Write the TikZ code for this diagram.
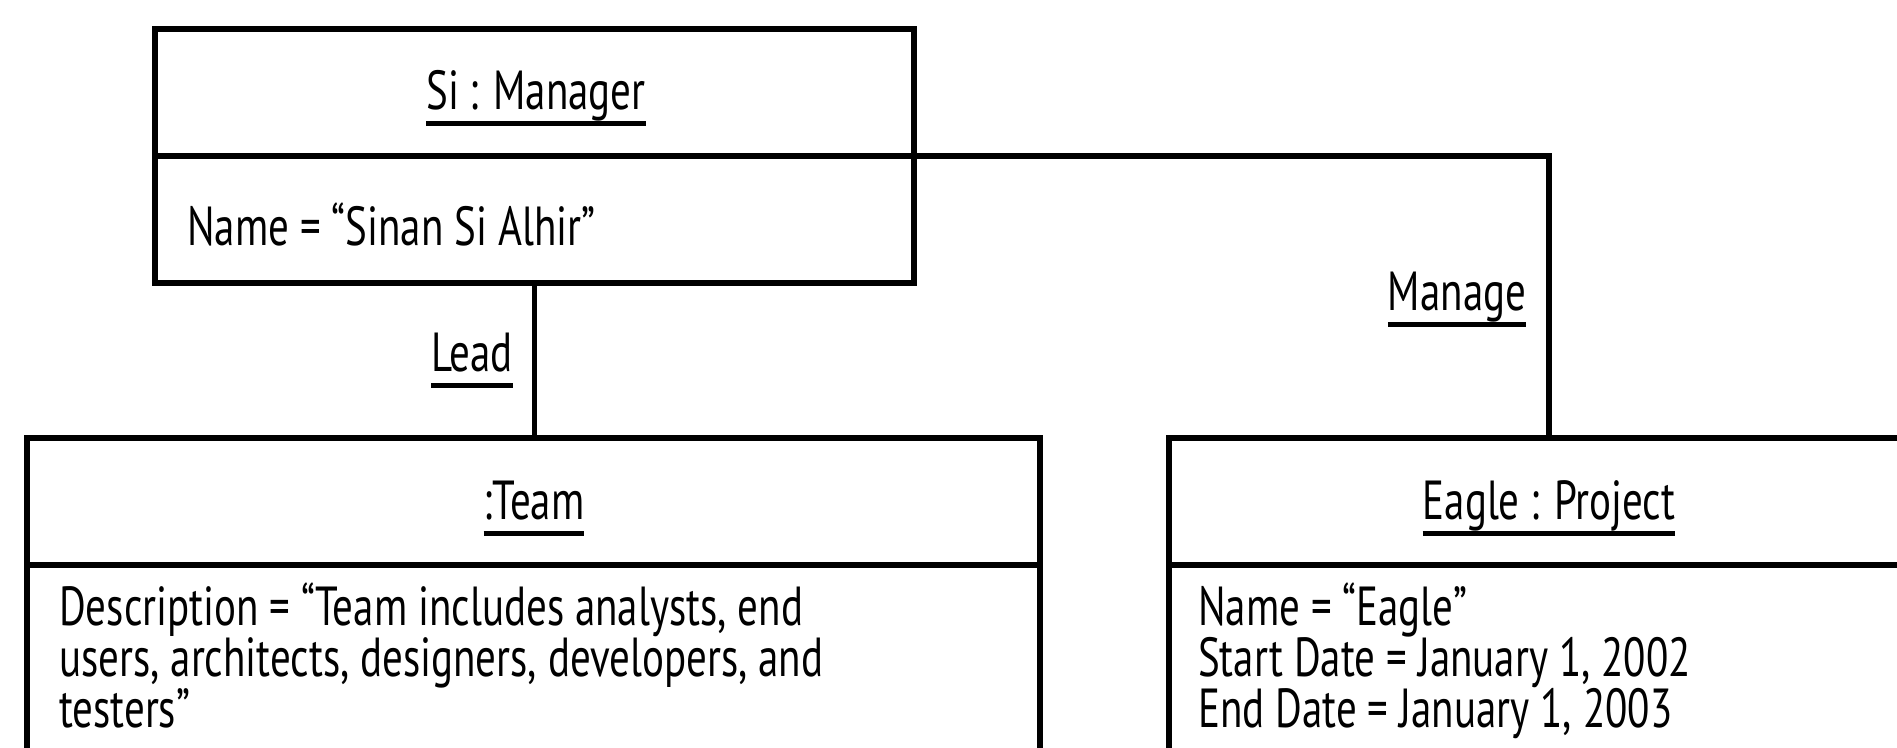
\documentclass[tikz,border=0pt]{standalone}
\usepackage{fontspec}
\setmainfont{PT Sans}[FakeStretch=0.745]
% object and link names are underlined with a heavy rule
\newcommand\objul[1]{\setbox0=\hbox{#1}\rlap{\rule[-0.31em]{\wd0}{0.09em}}\box0}
\begin{document}
\begin{tikzpicture}[x=1pt,y=-1pt,
  comp/.style={draw, rectangle, line width=5.5pt, inner sep=0pt, outer sep=0pt, anchor=north west},
  txt/.style={inner sep=0pt, font=\fontsize{55}{51}\selectfont},
  link/.style={line width=5.5pt}]
\useasboundingbox (0,0) rectangle (1897,747);
\clip (0,0) rectangle (1897,747);

% Si : Manager
\node[comp, minimum width=759pt, minimum height=127pt] (mgrhead) at (155,29) {};
\node[comp, minimum width=759pt, minimum height=127pt] (mgrbody) at (155,156) {};
\node[txt, anchor=base] (mgrname) at (536,109) {\objul{Si : Manager}};
\node[txt, anchor=base west] (mgrattr) at (187,245) {Name = “Sinan Si Alhir”};

% :Team
\node[comp, minimum width=1013pt, minimum height=127pt] (teamhead) at (27,438) {};
\node[comp, minimum width=1013pt, minimum height=250pt] (teambody) at (27,565) {};
\node[txt, anchor=base] (teamname) at (534,519) {\objul{:Team}};
% base anchor of a multi-line node sits on its last line
\node[txt, anchor=base west, align=left] (teamattr) at (59,727)
  {Description = “Team includes analysts, end\\users, architects, designers, developers, and\\testers”};

% Eagle : Project
\node[comp, minimum width=760pt, minimum height=127pt] (projhead) at (1169,438) {};
\node[comp, minimum width=760pt, minimum height=250pt] (projbody) at (1169,565) {};
\node[txt, anchor=base] (projname) at (1549,519) {\objul{Eagle : Project}};
\node[txt, anchor=base west, align=left] (projattr) at (1198,727)
  {Name = “Eagle”\\Start Date = January 1, 2002\\End Date = January 1, 2003};

% links
\draw[link] (mgrbody.south) -- (mgrbody.south |- teamhead.north);
\draw[link] (mgrhead.south east) -| (projhead.north);
\node[txt, anchor=base] (leadlbl) at (472,371) {\objul{Lead}};
\node[txt, anchor=base] (managelbl) at (1457,310) {\objul{Manage}};
\end{tikzpicture}
\end{document}
